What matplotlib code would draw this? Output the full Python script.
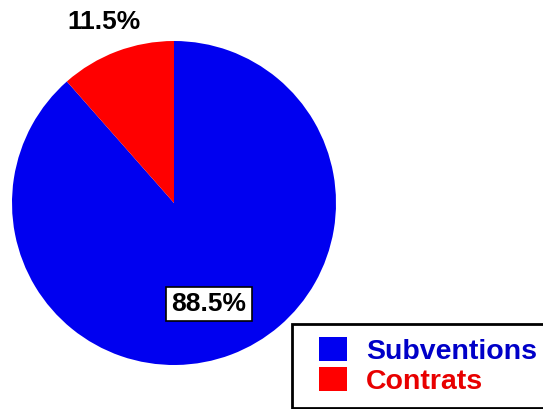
import matplotlib
matplotlib.use("Agg")
import matplotlib.pyplot as plt
from matplotlib.patches import Rectangle

labels = ["Subventions", "Contrats"]
values = [88.5, 11.5]
pct_labels = ["88.5%", "11.5%"]
colors = ["#0000F0", "#FF0000"]
text_colors = ["#0000C8", "#E80000"]

W, H = 543, 409
fig = plt.figure(figsize=(W / 100, H / 100), dpi=100)
plt.rcParams['font.family'] = ['Liberation Sans', 'DejaVu Sans']

cx, cy, r = 174, 203, 162
ax = fig.add_axes([(cx - r) / W, (H - cy - r) / H, 2 * r / W, 2 * r / H])
wedges, _ = ax.pie(values, colors=colors, startangle=90, counterclock=False,
                   radius=1, wedgeprops=dict(linewidth=0))
ax.set_xlim(-1, 1)
ax.set_ylim(-1, 1)
ax.set_aspect('auto')
ax.axis('off')

# percent labels (figure pixel positions)
fig.text(209 / W, 1 - 304 / H, pct_labels[0], ha='center', va='center',
         fontsize=19, fontweight='bold', color='black',
         bbox=dict(boxstyle='square,pad=0.2', facecolor='white', edgecolor='black', linewidth=1.2))
fig.text(104 / W, 1 - 22 / H, pct_labels[1], ha='center', va='center',
         fontsize=19, fontweight='bold', color='black')

# legend frame
fig.patches.append(Rectangle((292 / W, 1 - 408 / H), 270 / W, 84 / H,
                             transform=fig.transFigure, facecolor='white',
                             edgecolor='black', linewidth=2, clip_on=False))
leg = fig.legend(wedges, labels, loc='upper left',
                 bbox_to_anchor=(319 / W, 1 - 337 / H), frameon=False,
                 borderpad=0, borderaxespad=0, fontsize=20.5,
                 handlelength=0.98, handleheight=0.9, handletextpad=0.66,
                 labelspacing=0.08, prop=dict(weight='bold', size=20.5))
for t, c in zip(leg.get_texts(), text_colors):
    t.set_color(c)

fig.savefig("out.png", dpi=100)
